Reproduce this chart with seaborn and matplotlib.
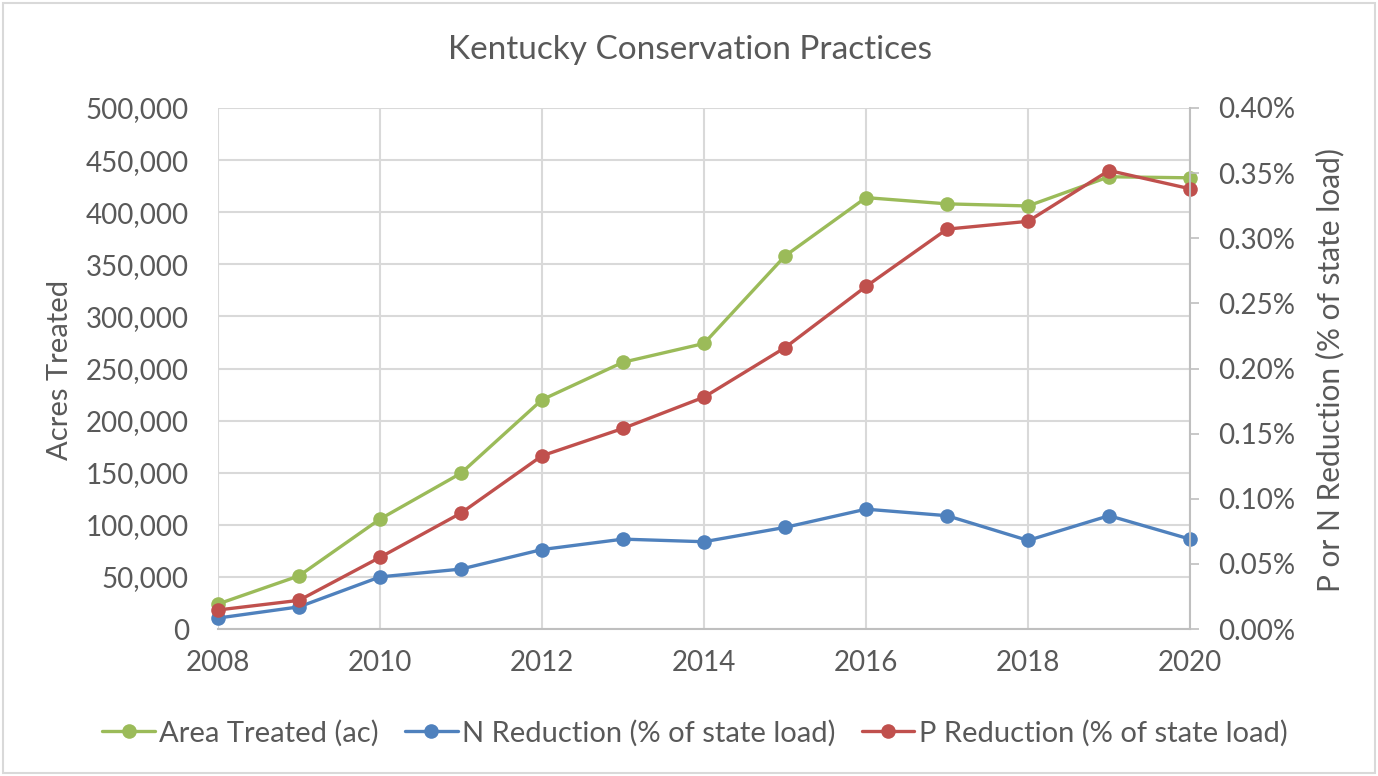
import matplotlib
matplotlib.use("Agg")
import matplotlib.pyplot as plt
import matplotlib.ticker as mticker
import seaborn as sns
import pandas as pd

years = [2008, 2009, 2010, 2011, 2012, 2013, 2014, 2015, 2016, 2017, 2018, 2019, 2020]
area_treated = [24000, 51000, 105500, 149500, 220000, 256000, 274000, 358000, 414000, 408000, 406000, 434000, 433000]
n_reduction = [0.0084, 0.017, 0.040, 0.046, 0.061, 0.069, 0.067, 0.078, 0.092, 0.087, 0.068, 0.087, 0.069]
p_reduction = [0.0146, 0.022, 0.055, 0.089, 0.133, 0.154, 0.178, 0.216, 0.263, 0.307, 0.313, 0.352, 0.338]

labels = ["Area Treated (ac)", "N Reduction (% of state load)", "P Reduction (% of state load)"]
title = "Kentucky Conservation Practices"

sns.set_theme(style="white")
plt.rcParams["font.family"] = ["Lato", "DejaVu Sans"]
TXT = "#595959"
GRID = "#D9D9D9"
AXC = "#BFBFBF"
GREEN, BLUE, RED = "#9BBB59", "#4F81BD", "#C0504D"

df = pd.DataFrame({"year": years, "area": area_treated, "n": n_reduction, "p": p_reduction})

fig = plt.figure(figsize=(13.78, 7.76), dpi=100)
ax = fig.add_axes([218/1378, 1-629/776, (1190-218)/1378, (629-108)/776])
ax2 = ax.twinx()

lw = 2.4
ms = 10.5
sns.lineplot(data=df, x="year", y="area", ax=ax, color=GREEN, marker="o", markersize=ms,
             markeredgewidth=0, linewidth=lw, label=labels[0], legend=False, clip_on=False)
sns.lineplot(data=df, x="year", y="n", ax=ax2, color=BLUE, marker="o", markersize=ms,
             markeredgewidth=0, linewidth=lw, label=labels[1], legend=False, clip_on=False)
sns.lineplot(data=df, x="year", y="p", ax=ax2, color=RED, marker="o", markersize=ms,
             markeredgewidth=0, linewidth=lw, label=labels[2], legend=False, clip_on=False)

ax.set_xlim(2008, 2020)
ax.set_ylim(0, 500000)
ax2.set_ylim(0, 0.40)
ax.set_xticks(range(2008, 2021, 2))
ax.set_yticks(range(0, 500001, 50000))
ax2.set_yticks([i * 0.05 for i in range(9)])
ax.yaxis.set_major_formatter(mticker.FuncFormatter(lambda v, p: f"{int(v):,}"))
ax2.yaxis.set_major_formatter(mticker.FuncFormatter(lambda v, p: f"{v:.2f}%"))

ax.grid(True, color=GRID, linewidth=1.5)
ax.set_axisbelow(True)
ax2.grid(False)

for a in (ax, ax2):
    for s in a.spines.values():
        s.set_visible(False)
ax.spines["bottom"].set_visible(True)
ax.spines["bottom"].set_color(AXC)
ax.spines["bottom"].set_linewidth(1.5)
ax2.spines["right"].set_visible(True)
ax2.spines["right"].set_color(AXC)
ax2.spines["right"].set_linewidth(1.5)

ax.tick_params(axis="x", length=0, pad=15, labelsize=20, labelcolor=TXT)
ax.tick_params(axis="y", length=0, pad=21, labelsize=20, labelcolor=TXT)
ax2.tick_params(axis="y", length=6.5, width=1.2, color=AXC, pad=14, labelsize=20, labelcolor=TXT, direction="out")

ax.set_xlabel("")
ax.set_ylabel("")
ax2.set_ylabel("")
fig.text(60/1378, 1-370/776, "Acres Treated", rotation=90, ha="center", va="center", fontsize=21, color=TXT)
fig.text(1330/1378, 1-370/776, "P or N Reduction (% of state load)", rotation=90, ha="center", va="center", fontsize=21.5, color=TXT)
fig.text(690/1378, 1-50/776, title, ha="center", va="center", fontsize=24, color=TXT)

h1, l1 = ax.get_legend_handles_labels()
h2, l2 = ax2.get_legend_handles_labels()
fig.legend(h1 + h2, l1 + l2, loc="center", bbox_to_anchor=(695/1378, 1-733/776), ncol=3, frameon=False,
           fontsize=21, labelcolor=TXT, handlelength=1.8, handletextpad=0.15, columnspacing=0.9)

border = plt.Rectangle((3/1378, 3/776), 1372/1378, 770/776, transform=fig.transFigure,
                       fill=False, edgecolor="#D9D9D9", linewidth=1.5)
fig.patches.append(border)

fig.savefig("out.png", dpi=100, facecolor="white")
